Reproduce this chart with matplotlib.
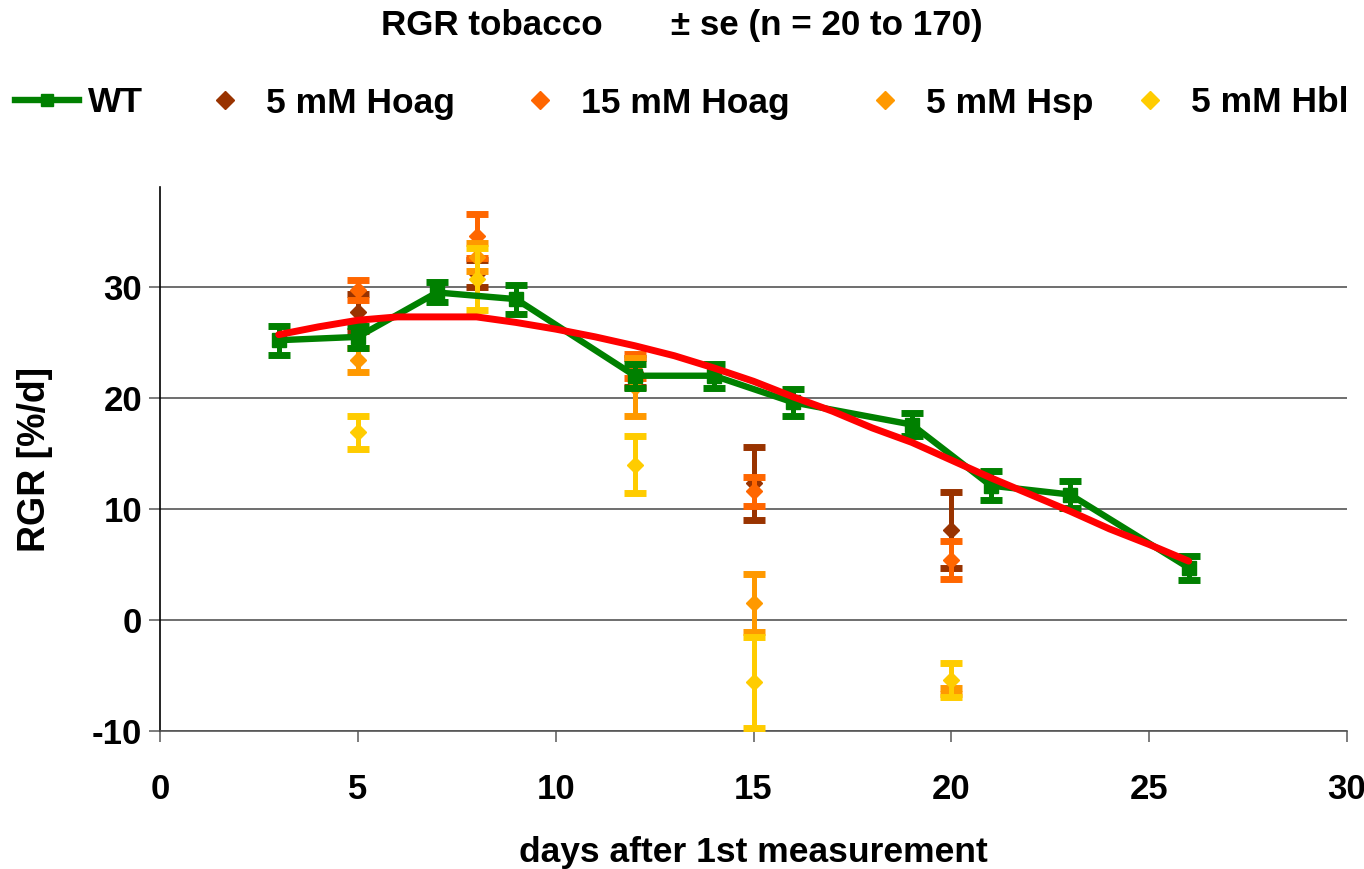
import matplotlib
matplotlib.use("Agg")
import matplotlib.pyplot as plt
from matplotlib.lines import Line2D

plt.rcParams['font.family'] = ['Liberation Sans', 'DejaVu Sans']
plt.rcParams['font.weight'] = 'bold'
plt.rcParams['axes.unicode_minus'] = False

# ---- data ----
wt_days = [3, 5, 7, 9, 12, 14, 16, 19, 21, 23, 26]
wt_rgr = [25.2, 25.5, 29.5, 28.9, 22.0, 22.0, 19.6, 17.6, 12.1, 11.3, 4.7]
wt_se = [1.3, 1.0, 0.9, 1.3, 1.1, 1.1, 1.2, 1.0, 1.3, 1.2, 1.1]

treat_days = [5, 8, 12, 15, 20]
hoag5_rgr = [27.7, 31.2, 22.3, 12.3, 8.1]
hoag5_se = [1.7, 1.2, 1.3, 3.3, 3.4]
hoag15_rgr = [29.7, 34.6, 22.9, 11.6, 5.4]
hoag15_se = [0.9, 2.0, 1.1, 1.3, 1.7]
hsp5_rgr = [23.4, 32.7, 21.0, 1.5, -6.4]
hsp5_se = [1.1, 1.3, 2.6, 2.6, 0.3]
hbl5_rgr = [16.9, 30.7, 14.0, -5.6, -5.4]
hbl5_se = [1.5, 2.8, 2.6, 4.1, 1.5]

trend_days = [3, 4, 5, 6, 7, 8, 9, 10, 11, 12, 13, 14, 15, 16, 17, 18, 19, 20, 21, 22, 23, 24, 25, 26]
trend_rgr = [25.7, 26.4, 27.0, 27.3, 27.3, 27.3, 26.8, 26.2, 25.5, 24.7, 23.8, 22.7, 21.5, 20.1,
             18.8, 17.3, 16.0, 14.4, 12.8, 11.3, 9.8, 8.2, 6.8, 5.3]

series_names = ["WT", "5 mM Hoag", "15 mM Hoag", "5 mM Hsp", "5 mM Hbl"]
title = "RGR tobacco       \u00b1 se (n = 20 to 170)"
xlabel = "days after 1st measurement"
ylabel = "RGR [%/d]"

# ---- figure ----
W, H = 1364, 869
fig = plt.figure(figsize=(W/100, H/100), dpi=100)
ax = fig.add_axes([160/W, 1-731/H, (1347-160)/W, (731-187)/H])

C_WT = '#008000'
treat = [
    (hoag5_rgr, hoag5_se, '#993300'),
    (hoag15_rgr, hoag15_se, '#FF6600'),
    (hsp5_rgr, hsp5_se, '#FF9900'),
    (hbl5_rgr, hbl5_se, '#FFCC00'),
]

handles = []
for i, (vals, se, col) in enumerate(treat):
    ax.errorbar(treat_days, vals, yerr=se, fmt='D', color=col, ecolor=col,
                markersize=8, elinewidth=3.6, capsize=8, capthick=5, zorder=3 + i)
    handles.append(Line2D([], [], marker='D', color=col, linestyle='none', markersize=9))

ax.errorbar(wt_days, wt_rgr, yerr=wt_se, fmt='-s', color=C_WT, ecolor=C_WT,
            linewidth=4.6, markersize=10, elinewidth=3.6, capsize=8, capthick=5, zorder=8)
ax.plot(trend_days, trend_rgr, color='#FF0000', linewidth=5, zorder=9,
        solid_capstyle='round', solid_joinstyle='round')

wt_handle = Line2D([], [], marker='s', color=C_WT, linewidth=4.6, markersize=8)

ax.set_xlim(0, 30)
ax.set_ylim(-10, 39)
ax.set_xticks([0, 5, 10, 15, 20, 25, 30])
ax.set_yticks([-10, 0, 10, 20, 30])
ax.yaxis.grid(True, color='#555555', linewidth=1.2)
ax.set_axisbelow(True)
for s in ['top', 'right']:
    ax.spines[s].set_visible(False)
ax.spines['left'].set_color('black')
ax.spines['left'].set_linewidth(1.2)
ax.spines['bottom'].set_color('#555555')
ax.spines['bottom'].set_linewidth(1.2)
ax.tick_params(axis='both', direction='out', length=8, width=1.2, color='#666666',
               labelsize=25)
ax.tick_params(axis='x', pad=22)
ax.tick_params(axis='y', pad=5)
for lbl in ax.get_xticklabels() + ax.get_yticklabels():
    lbl.set_fontweight('bold')

ax.set_xlabel(xlabel, fontsize=25.5, fontweight='bold', labelpad=22)
ax.set_ylabel(ylabel, fontsize=27, fontweight='bold', labelpad=28)

fig.text(0.5, 1 - 26/H, title, ha='center', va='center', fontsize=25.2, fontweight='bold')

# legend: one entry per slot, positioned like the reference
all_handles = [wt_handle] + handles
slot_left_px = [15, 193, 508, 853, 1118]
for h, name, xl in zip(all_handles, series_names, slot_left_px):
    lg = fig.legend([h], [name], loc='center left', bbox_to_anchor=(xl/W, 1 - 103/H),
                    frameon=False, prop={'size': 25.5, 'weight': 'bold'},
                    handlelength=1.8, handletextpad=0.25, borderpad=0, borderaxespad=0)

fig.savefig("out.png", dpi=100)
